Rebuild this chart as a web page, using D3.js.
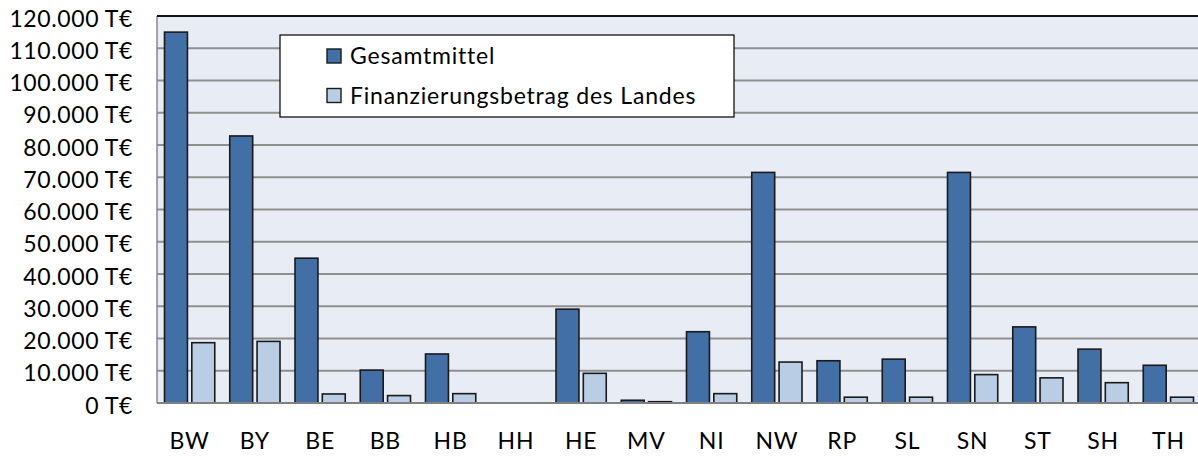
<!DOCTYPE html>
<html>
<head>
<meta charset="utf-8">
<script src="https://cdn.jsdelivr.net/npm/d3@7"></script>
<style>
  body { margin: 0; background: #fff; }
  text { font-family: Lato, "Open Sans", sans-serif; fill: #000; }
</style>
</head>
<body>
<div id="container"></div>
<script>
// ---- data ----
const laender = ["BW", "BY", "BE", "BB", "HB", "HH", "HE", "MV", "NI", "NW", "RP", "SL", "SN", "ST", "SH", "TH"];
const gesamtmittel = [115000, 82800, 44900, 10200, 15200, 0, 29100, 850, 22100, 71500, 13100, 13600, 71500, 23600, 16700, 11700];
const finanzierungLand = [18700, 19100, 2800, 2300, 2900, 0, 9200, 400, 2900, 12700, 1800, 1800, 8800, 7800, 6300, 1800];
const seriesNames = ["Gesamtmittel", "Finanzierungsbetrag des Landes"];
const yTicks = [0, 10000, 20000, 30000, 40000, 50000, 60000, 70000, 80000, 90000, 100000, 110000, 120000];

const colors = ["#416fa6", "#b9cde5"];

// ---- layout ----
const width = 1198, height = 457;
const plot = { left: 157, top: 16, right: 1201, bottom: 403 };

const svg = d3.select("#container").append("svg")
  .attr("width", width)
  .attr("height", height);

const x0 = d3.scaleBand().domain(laender).range([plot.left, plot.right]);
const x1 = d3.scaleBand().domain(seriesNames)
  .range([7.5, x0.bandwidth() - 7.5])
  .paddingInner(0.16);
const y = d3.scaleLinear().domain([0, 120000]).range([plot.bottom, plot.top]);

const fmt = v => d3.format(",")(v).replace(/,/g, ".") + " T€";

// plot background
svg.append("rect")
  .attr("x", plot.left).attr("y", plot.top)
  .attr("width", plot.right - plot.left)
  .attr("height", plot.bottom - plot.top)
  .attr("fill", "#e8ecf4");

// gridlines
svg.append("g").selectAll("line")
  .data(yTicks.filter(t => t > 0 && t < 120000))
  .join("line")
  .attr("x1", plot.left).attr("x2", plot.right)
  .attr("y1", d => y(d)).attr("y2", d => y(d))
  .attr("stroke", "#8f8f8f")
  .attr("stroke-width", 2);

// left edge + top border
svg.append("line")
  .attr("x1", plot.left).attr("x2", plot.left)
  .attr("y1", plot.top).attr("y2", plot.bottom)
  .attr("stroke", "#8a8a8a").attr("stroke-width", 1.5);
svg.append("line")
  .attr("x1", plot.left).attr("x2", plot.right)
  .attr("y1", plot.top).attr("y2", plot.top)
  .attr("stroke", "#111").attr("stroke-width", 2);

// y axis labels
const yAxis = d3.axisLeft(y).tickValues(yTicks).tickFormat(fmt).tickSize(0).tickPadding(24);
const gy = svg.append("g")
  .attr("transform", `translate(${plot.left},0)`)
  .call(yAxis);
gy.select(".domain").remove();
gy.selectAll("text")
  .attr("font-size", 23)
  .attr("letter-spacing", 0.6)
  .attr("dy", 10)
  .style("font-family", "Lato, sans-serif");

// bars
const groups = svg.append("g").selectAll("g")
  .data(laender.map((l, i) => ({ land: l, values: [gesamtmittel[i], finanzierungLand[i]] })))
  .join("g")
  .attr("transform", d => `translate(${x0(d.land)},0)`);

groups.selectAll("rect")
  .data(d => d.values.map((v, j) => ({ name: seriesNames[j], value: v, j: j })))
  .join("rect")
  .attr("x", d => x1(d.name))
  .attr("y", d => y(d.value))
  .attr("width", x1.bandwidth())
  .attr("height", d => y(0) - y(d.value))
  .attr("fill", d => colors[d.j])
  .attr("stroke", "#1a1a1a")
  .attr("stroke-width", d => d.value > 0 ? 1.6 : 0);

// x axis
svg.append("line")
  .attr("x1", plot.left).attr("x2", plot.right)
  .attr("y1", plot.bottom).attr("y2", plot.bottom)
  .attr("stroke", "#808080").attr("stroke-width", 2);

const xAxis = d3.axisBottom(x0).tickSize(0).tickPadding(0);
const gx = svg.append("g")
  .attr("transform", `translate(0,${plot.bottom})`)
  .call(xAxis);
gx.select(".domain").remove();
gx.selectAll("text")
  .attr("y", 46)
  .attr("dy", 0)
  .attr("font-size", 23)
  .attr("letter-spacing", 0.8)
  .style("font-family", "Lato, sans-serif");

// legend
const legend = svg.append("g").attr("transform", "translate(280,35)");
legend.append("rect")
  .attr("width", 454).attr("height", 82)
  .attr("fill", "#fff")
  .attr("stroke", "#000").attr("stroke-width", 1.2);
const items = legend.selectAll("g.item")
  .data(seriesNames)
  .join("g")
  .attr("class", "item")
  .attr("transform", (d, i) => `translate(47,${14 + i * 39.5})`);
items.append("rect")
  .attr("width", 14).attr("height", 14)
  .attr("fill", (d, i) => colors[i])
  .attr("stroke", "#1a1a1a").attr("stroke-width", 1.4);
items.append("text")
  .attr("x", 23).attr("y", 15)
  .attr("font-size", 23)
  .attr("letter-spacing", 0.8)
  .text(d => d);
</script>
</body>
</html>
